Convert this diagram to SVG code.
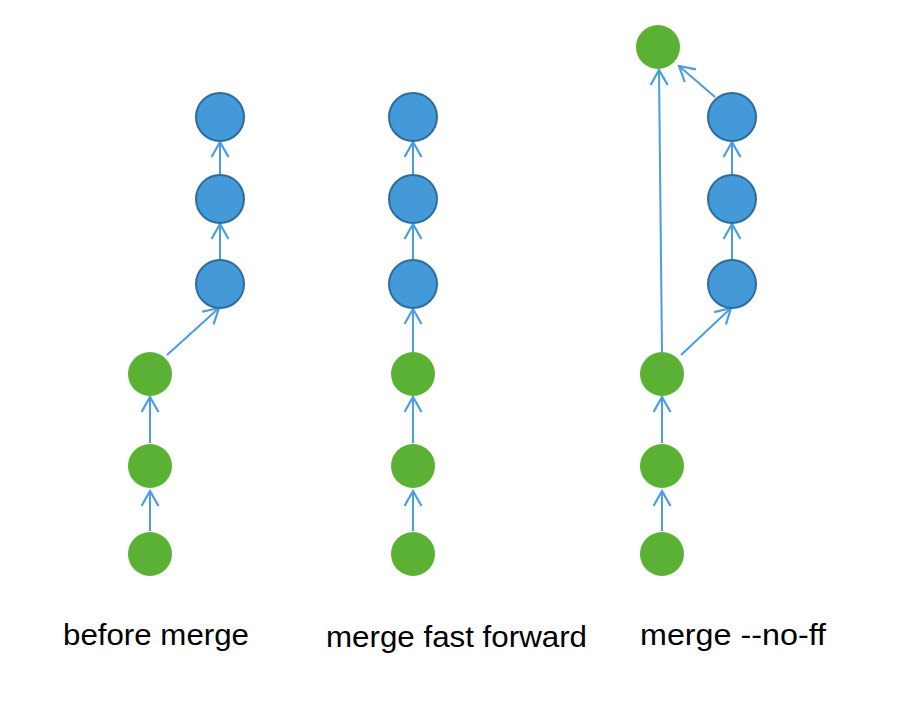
<svg xmlns="http://www.w3.org/2000/svg" width="900" height="718" viewBox="0 0 900 718">
<style>
.b{fill:#449ad9;stroke:#2d6c9e;stroke-width:2}
.g{fill:#5bb134}
.e{stroke:#4a9de0;stroke-width:2;fill:none;marker-end:url(#a)}
.t{font-family:"Liberation Sans",Arial,sans-serif;font-size:30px;fill:#000}
</style>
<defs>
<marker id="a" viewBox="-1 -1 18 19" refX="15" refY="8.5" markerWidth="18" markerHeight="19" markerUnits="userSpaceOnUse" orient="auto">
<path d="M0,0 L15,8.5 L0,17" fill="none" stroke="#4a9de0" stroke-width="2.2"/>
</marker>
</defs>
<rect width="900" height="718" fill="#fff"/>
<g id="connectors">
<line class="e" x1="150" y1="531" x2="150" y2="491"/>
<line class="e" x1="150" y1="443" x2="150" y2="397"/>
<line class="e" x1="167" y1="355" x2="219" y2="308"/>
<line class="e" x1="220" y1="260" x2="220" y2="224"/>
<line class="e" x1="220" y1="175" x2="220" y2="142"/>
<line class="e" x1="413" y1="531" x2="413" y2="491"/>
<line class="e" x1="413" y1="443" x2="413" y2="397"/>
<line class="e" x1="413" y1="352" x2="413" y2="309"/>
<line class="e" x1="413" y1="260" x2="413" y2="224"/>
<line class="e" x1="413" y1="175" x2="413" y2="142"/>
<line class="e" x1="662" y1="531" x2="662" y2="491"/>
<line class="e" x1="662" y1="443" x2="662" y2="397"/>
<line class="e" x1="681" y1="355" x2="731" y2="308"/>
<line class="e" x1="732" y1="260" x2="732" y2="224"/>
<line class="e" x1="732" y1="175" x2="732" y2="142"/>
<line class="e" x1="662" y1="352" x2="659" y2="70"/>
<line class="e" x1="715" y1="97" x2="679" y2="66"/>
</g>
<g id="n1"><circle class="g" cx="150" cy="554" r="22"/></g>
<g id="n2"><circle class="g" cx="150" cy="466" r="22"/></g>
<g id="n3"><circle class="g" cx="150" cy="374" r="22"/></g>
<g id="n4"><circle class="b" cx="220" cy="284" r="24"/></g>
<g id="n5"><circle class="b" cx="220" cy="199" r="24"/></g>
<g id="n6"><circle class="b" cx="220" cy="117" r="24"/></g>
<g id="m1"><circle class="g" cx="413" cy="554" r="22"/></g>
<g id="m2"><circle class="g" cx="413" cy="466" r="22"/></g>
<g id="m3"><circle class="g" cx="413" cy="374" r="22"/></g>
<g id="m4"><circle class="b" cx="413" cy="284" r="24"/></g>
<g id="m5"><circle class="b" cx="413" cy="199" r="24"/></g>
<g id="m6"><circle class="b" cx="413" cy="117" r="24"/></g>
<g id="r1"><circle class="g" cx="662" cy="554" r="22"/></g>
<g id="r2"><circle class="g" cx="662" cy="466" r="22"/></g>
<g id="r3"><circle class="g" cx="662" cy="374" r="22"/></g>
<g id="r4"><circle class="b" cx="732" cy="284" r="24"/></g>
<g id="r5"><circle class="b" cx="732" cy="199" r="24"/></g>
<g id="r6"><circle class="b" cx="732" cy="117" r="24"/></g>
<g id="r7"><circle class="g" cx="658" cy="47" r="22"/></g>
<g id="labels">
<text class="t" x="63" y="645" textLength="186" lengthAdjust="spacingAndGlyphs">before merge</text>
<text class="t" x="326" y="647" textLength="261" lengthAdjust="spacingAndGlyphs">merge fast forward</text>
<text class="t" x="640" y="645" textLength="186" lengthAdjust="spacingAndGlyphs">merge --no-ff</text>
</g>
</svg>
